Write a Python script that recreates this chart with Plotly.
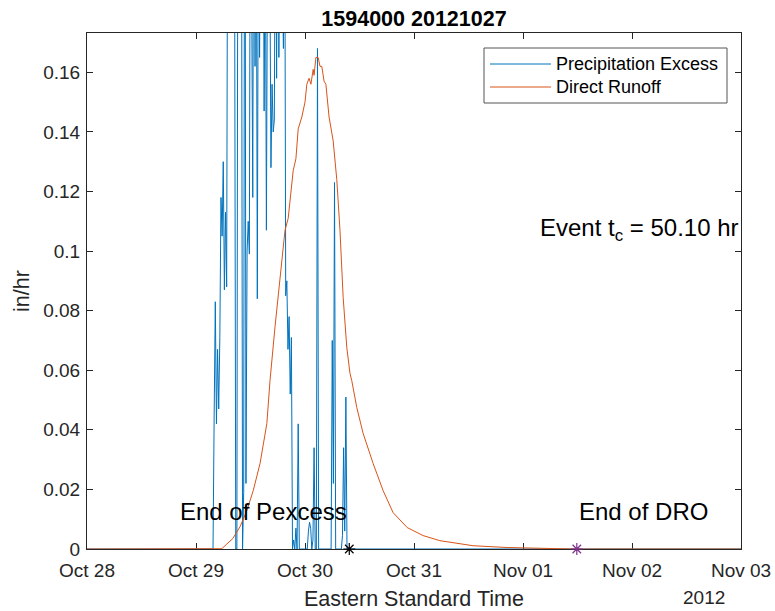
import pandas as pd
import plotly.graph_objects as go

# ---------------- data ----------------
title_text = "1594000 20121027"
series_names = ["Precipitation Excess", "Direct Runoff"]

axis_start = "2012-10-28 00:00"
axis_end = "2012-11-03 00:00"

# Precipitation excess (in/hr), 15-minute steps starting at pex_start
pex_start = "2012-10-29 03:00"
pex_values = [
    0, 0, 0, 0, 0.045, 0.083, 0.042, 0.067, 0.047, 0.071,
    0.118, 0.105, 0.130, 0.087, 0.113, 0.088, 0.25, 0.30, 0.22, 0.28,
    0.35, 0.24, 0.20, 0.0, 0.0, 0.27, 0.22, 0.31, 0.25, 0.0,
    0.019, 0.30, 0.022, 0.10, 0.11, 0.099, 0.26, 0.160, 0.118, 0.28,
    0.162, 0.24, 0.084, 0.23, 0.165, 0.21, 0.29, 0.25, 0.147, 0.22,
    0.107, 0.26, 0.31, 0.20, 0.128, 0.156, 0.140, 0.144, 0.24, 0.158,
    0.26, 0.165, 0.27, 0.23, 0.19, 0.168, 0.25, 0.085, 0.090, 0.067,
    0.078, 0.052, 0.071, 0.0, 0.003, 0.0, 0.007, 0.0, 0.042, 0.0,
    0, 0, 0, 0, 0, 0, 0, 0.006, 0.009, 0.007,
    0.0, 0.003, 0.034, 0.0, 0.0, 0.168, 0.0, 0, 0, 0,
    0, 0, 0, 0, 0, 0, 0, 0, 0.070, 0.022,
    0.123, 0.0, 0, 0, 0, 0, 0, 0.0045, 0.034, 0.006,
    0.051, 0.0, 0, 0,
]

# Direct runoff (in/hr) at hours after Oct 28 00:00
dro_hours = [0, 28.0, 29.7, 30.8, 32.1, 33.7, 35.2, 36.6, 38.1, 39.6,
             40.3, 41.4, 42.1, 43.6, 44.3, 45.4, 46.0, 46.5, 47.3, 48.0,
             48.4, 48.9, 49.3, 49.8, 50.0, 50.4, 50.9, 51.3, 51.7, 52.2,
             52.6, 53.3, 54.2, 55.0, 55.7, 56.4, 57.2, 57.9, 58.3, 59.0,
             59.4, 60.8, 63.0, 65.2, 67.4, 70.5, 74.0, 77.7, 85.0, 92.5,
             99.7, 107.0, 144.0]
dro_values = [0, 0, 0.0001, 0.0017, 0.0035, 0.0075, 0.0129, 0.0196, 0.0287, 0.0421,
              0.0566, 0.0746, 0.0846, 0.107, 0.111, 0.127, 0.131, 0.141, 0.145, 0.150,
              0.156, 0.158, 0.156, 0.161, 0.159, 0.165, 0.165, 0.162, 0.162, 0.157,
              0.156, 0.145, 0.137, 0.124, 0.107, 0.0845, 0.0677, 0.059, 0.0565, 0.051,
              0.0475, 0.0388, 0.0287, 0.0196, 0.0122, 0.0072, 0.0045, 0.0028, 0.0011, 0.0005,
              0.0002, 0.0, 0.0]

end_pex_time = "2012-10-30 09:45"
end_dro_time = "2012-11-01 11:51"
tc_text = "Event t<sub>c</sub> = 50.10 hr"
end_pex_label = "End of Pexcess"
end_dro_label = "End of DRO"
label_y = 0.0125

y_tick_vals = [0, 0.02, 0.04, 0.06, 0.08, 0.1, 0.12, 0.14, 0.16]
y_tick_text = ["0", "0.02", "0.04", "0.06", "0.08", "0.1", "0.12", "0.14", "0.16"]
y_max = 0.1732
x_label = "Eastern Standard Time"
y_label = "in/hr"
year_label = "2012"

# ---------------- build ----------------
pex_t = list(pd.date_range(pex_start, periods=len(pex_values), freq="15min"))
pex_x = [pd.Timestamp(axis_start)] + pex_t + [pd.Timestamp(axis_end)]
pex_y = [0] + pex_values + [0]

dro_x = [pd.Timestamp(axis_start) + pd.Timedelta(hours=h) for h in dro_hours]

FONT = "Liberation Sans, Arial, Helvetica, sans-serif"
AX = "#262626"
BLUE = "#0072BD"
ORANGE = "#D95319"
PURPLE = "#7E2F8E"
series_colors = [BLUE, ORANGE]

FW, FH = 775, 611

fig = go.Figure()
fig.add_trace(go.Scatter(x=pex_x, y=pex_y, mode="lines", name=series_names[0],
                         line=dict(color=BLUE, width=1), showlegend=False))
fig.add_trace(go.Scatter(x=dro_x, y=dro_values, mode="lines", name=series_names[1],
                         line=dict(color=ORANGE, width=1), showlegend=False))
fig.add_trace(go.Scatter(x=[pd.Timestamp(end_pex_time)], y=[0], mode="markers",
                         showlegend=False, cliponaxis=False,
                         marker=dict(symbol="asterisk-open", size=10, color="black",
                                     line=dict(color="black", width=1.2))))
fig.add_trace(go.Scatter(x=[pd.Timestamp(end_dro_time)], y=[0], mode="markers",
                         showlegend=False, cliponaxis=False,
                         marker=dict(symbol="asterisk-open", size=10, color=PURPLE,
                                     line=dict(color=PURPLE, width=1.2))))

fig.update_layout(
    width=FW, height=FH,
    margin=dict(l=87, r=34, t=33, b=62, autoexpand=False),
    paper_bgcolor="white", plot_bgcolor="white",
    font=dict(family=FONT, color=AX, size=19),
    title=dict(text="<b>" + title_text + "</b>", x=414 / FW, xanchor="center",
               y=1 - 18 / FH, yanchor="middle",
               font=dict(family=FONT, size=21.5, color="black")),
    showlegend=False,
)

fig.update_xaxes(
    type="date", range=[axis_start, axis_end],
    tickvals=list(pd.date_range(axis_start, axis_end, freq="D")),
    tickformat="%b %d", automargin=False, ticklabelstandoff=4,
    ticks="inside", ticklen=6, tickwidth=1, tickcolor=AX,
    showline=True, linecolor=AX, linewidth=1, mirror="ticks",
    showgrid=False, zeroline=False, layer="below traces",
    tickfont=dict(size=19, color=AX),
)
fig.update_yaxes(
    range=[0, y_max], tickvals=y_tick_vals, ticktext=y_tick_text,
    automargin=False, ticklabelstandoff=2,
    ticks="inside", ticklen=6, tickwidth=1, tickcolor=AX,
    showline=True, linecolor=AX, linewidth=1, mirror="ticks",
    showgrid=False, zeroline=False, layer="below traces",
    tickfont=dict(size=19, color=AX),
)

# legend box (drawn in paper coordinates to match the MATLAB legend layout)
PW, PH = 654.0, 516.0
def px(xp):
    return (xp - 87) / PW
def py(yp):
    return (549 - yp) / PH

fig.add_shape(type="rect", xref="paper", yref="paper",
              x0=px(484), x1=px(727), y0=py(103), y1=py(48),
              line=dict(color="#555555", width=1), fillcolor="white", layer="above")
for k, (name, col) in enumerate(zip(series_names, series_colors)):
    yy = py(64 + 23 * k)
    fig.add_shape(type="line", xref="paper", yref="paper",
                  x0=px(490), x1=px(551), y0=yy, y1=yy,
                  line=dict(color=col, width=1), layer="above")
    fig.add_annotation(text=name, x=px(554), y=yy, xref="paper", yref="paper",
                       xanchor="left", yanchor="middle", showarrow=False,
                       font=dict(family=FONT, size=18, color="black"))

fig.add_annotation(text=end_pex_label, x=pd.Timestamp(end_pex_time), y=label_y,
                   xref="x", yref="y", xanchor="right", yanchor="middle",
                   showarrow=False, font=dict(family=FONT, size=24, color="black"))
fig.add_annotation(text=end_dro_label, x=pd.Timestamp(end_dro_time), y=label_y,
                   xref="x", yref="y", xanchor="left", yanchor="middle",
                   showarrow=False, font=dict(family=FONT, size=24, color="black"))
fig.add_annotation(text=tc_text, x=1.0, y=0.62, xref="paper", yref="paper",
                   xanchor="right", yanchor="middle", showarrow=False,
                   font=dict(family=FONT, size=24, color="black"))
fig.add_annotation(text=x_label, x=0.5, y=-50 / PH, xref="paper", yref="paper",
                   xanchor="center", yanchor="middle", showarrow=False,
                   font=dict(family=FONT, size=21.5, color=AX))
fig.add_annotation(text=year_label, x=px(727), y=-48 / PH, xref="paper", yref="paper",
                   xanchor="right", yanchor="middle", showarrow=False,
                   font=dict(family=FONT, size=19, color=AX))
fig.add_annotation(text=y_label, x=-65 / PW, y=0.5, xref="paper", yref="paper",
                   xanchor="center", yanchor="middle", showarrow=False, textangle=-90,
                   font=dict(family=FONT, size=21.5, color=AX))

# remove the default page margin so the 775x611 figure fills the window exactly
fig.write_html("out.html",
               config={"displayModeBar": False},
               post_script="document.body.style.margin='0';"
                           "document.body.style.overflow='hidden';")
